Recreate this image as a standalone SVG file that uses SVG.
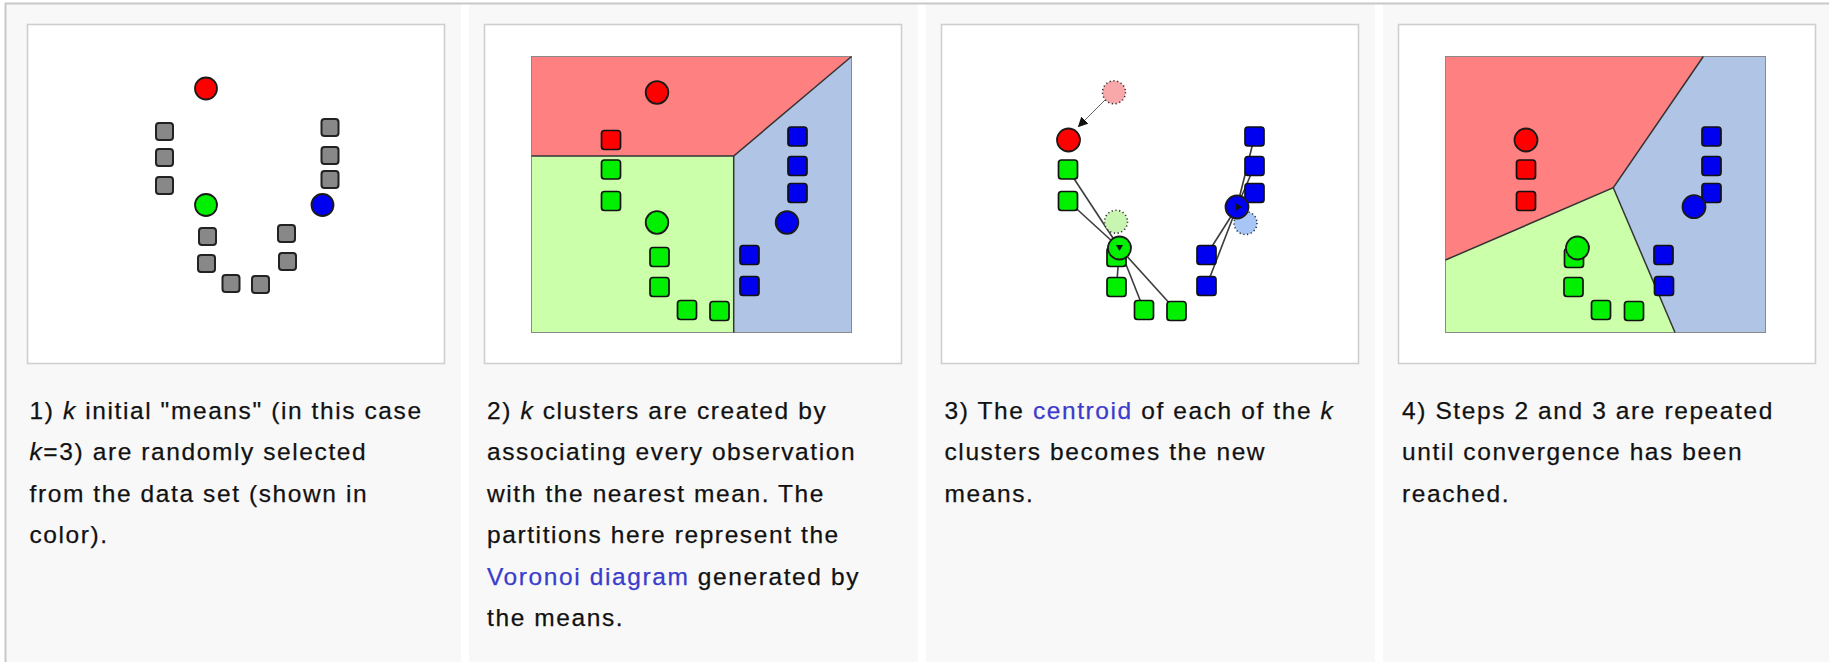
<svg xmlns="http://www.w3.org/2000/svg" width="1829" height="662" viewBox="0 0 1829 662">
<style>
.cell{fill:#f8f8f8}
.frame{fill:#ffffff;stroke:#cfcfcf;stroke-width:1.6}
.gsq{fill:#888888;stroke:#222;stroke-width:2}
.sq{stroke:#111;stroke-width:1.7}
.r{fill:#ff0000}.g{fill:#00f000}.b{fill:#0000f0}
.mean{stroke:#1a1a1a;stroke-width:1.8}
.old{stroke:#333;stroke-width:1.6;stroke-dasharray:1.2 2.6}
.regR{fill:#ff8080}.regG{fill:#ccffaa}.regB{fill:#b0c4e6}
.edge{fill:none;stroke:#333;stroke-width:1.5}
.bound{fill:none;stroke:#8a8a8a;stroke-width:1}
.link{stroke:#3c3c3c;stroke-width:1.6;fill:none}
.txt{font-family:"Liberation Sans",Arial,sans-serif;font-size:24.5px;letter-spacing:1.6px;fill:#111;stroke:#111;stroke-width:0.25}
.a{fill:#3b3bcc;stroke:#3b3bcc}
.i{font-style:italic}
</style>
<defs>
<marker id="ah" viewBox="0 0 10 10" refX="9" refY="5" markerWidth="10" markerHeight="10" markerUnits="userSpaceOnUse" orient="auto">
<path d="M0,0 L10,5 L0,10 z" fill="#111"/>
</marker>
</defs>
<rect width="1829" height="662" fill="#ffffff"/>
<g id="table">
<rect class="cell" x="6" y="4" width="455" height="658"/>
<rect class="cell" x="469" y="4" width="449" height="658"/>
<rect class="cell" x="926" y="4" width="449" height="658"/>
<rect class="cell" x="1383" y="4" width="446" height="658"/>
<line x1="5" y1="3.5" x2="1829" y2="3.5" stroke="#c8c8c8" stroke-width="2"/>
<line x1="5.5" y1="3" x2="5.5" y2="662" stroke="#c8c8c8" stroke-width="2"/>
</g>

<g id="panel1">
<rect class="frame" x="27.5" y="24.5" width="417" height="339"/>
<g id="p1-points">
<rect class="gsq" x="156" y="123" width="17" height="17" rx="3"/>
<rect class="gsq" x="156" y="149" width="17" height="17" rx="3"/>
<rect class="gsq" x="156" y="177" width="17" height="17" rx="3"/>
<rect class="gsq" x="199" y="228" width="17" height="17" rx="3"/>
<rect class="gsq" x="198" y="255" width="17" height="17" rx="3"/>
<rect class="gsq" x="222.5" y="275" width="17" height="17" rx="3"/>
<rect class="gsq" x="252" y="276" width="17" height="17" rx="3"/>
<rect class="gsq" x="278" y="225" width="17" height="17" rx="3"/>
<rect class="gsq" x="279" y="253" width="17" height="17" rx="3"/>
<rect class="gsq" x="321.5" y="119" width="17" height="17" rx="3"/>
<rect class="gsq" x="321.5" y="147" width="17" height="17" rx="3"/>
<rect class="gsq" x="321.5" y="171" width="17" height="17" rx="3"/>
</g>
<g id="p1-means">
<circle class="mean r" cx="206" cy="88.5" r="11"/>
<circle class="mean g" cx="206" cy="205" r="11"/>
<circle class="mean b" cx="322.5" cy="205" r="11"/>
</g>
<text class="txt" x="29.5" y="418.5">1) <tspan class="i">k</tspan> initial "means" (in this case</text>
<text class="txt" x="29.5" y="460"><tspan class="i">k</tspan>=3) are randomly selected</text>
<text class="txt" x="29.5" y="501.5">from the data set (shown in</text>
<text class="txt" x="29.5" y="543">color).</text>
</g>

<g id="panel2">
<rect class="frame" x="484.5" y="24.5" width="417" height="339"/>
<g id="p2-regions">
<polygon class="regR" points="531.5,56.5 851.5,56.5 733.7,156 531.5,156"/>
<polygon class="regG" points="531.5,156 733.7,156 733.7,332.5 531.5,332.5"/>
<polygon class="regB" points="851.5,56.5 851.5,332.5 733.7,332.5 733.7,156"/>
<rect class="bound" x="531.5" y="56.5" width="320" height="276"/>
<polyline class="edge" points="531.5,156 733.7,156 851.5,56.5"/>
<line class="edge" x1="733.7" y1="156" x2="733.7" y2="332.5"/>
</g>
<g id="p2-points">
<rect class="sq r" x="601.5" y="130.5" width="19" height="19" rx="3"/>
<rect class="sq g" x="601.5" y="160" width="19" height="19" rx="3"/>
<rect class="sq g" x="601.5" y="191.5" width="19" height="19" rx="3"/>
<rect class="sq g" x="650" y="247.5" width="19" height="19" rx="3"/>
<rect class="sq g" x="650" y="277.5" width="19" height="19" rx="3"/>
<rect class="sq g" x="677.5" y="300.5" width="19" height="19" rx="3"/>
<rect class="sq g" x="710" y="301.5" width="19" height="19" rx="3"/>
<rect class="sq b" x="788" y="127" width="19" height="19" rx="3"/>
<rect class="sq b" x="788" y="156.5" width="19" height="19" rx="3"/>
<rect class="sq b" x="788" y="183.5" width="19" height="19" rx="3"/>
<rect class="sq b" x="740" y="245.5" width="19" height="19" rx="3"/>
<rect class="sq b" x="740" y="276.5" width="19" height="19" rx="3"/>
</g>
<g id="p2-means">
<circle class="mean r" cx="657" cy="92.5" r="11.3"/>
<circle class="mean g" cx="657" cy="222.5" r="11.3"/>
<circle class="mean b" cx="787" cy="222.5" r="11.3"/>
</g>
<text class="txt" x="487" y="418.5">2) <tspan class="i">k</tspan> clusters are created by</text>
<text class="txt" x="487" y="460">associating every observation</text>
<text class="txt" x="487" y="501.5">with the nearest mean. The</text>
<text class="txt" x="487" y="543">partitions here represent the</text>
<text class="txt" x="487" y="584.5"><tspan class="a">Voronoi diagram</tspan> generated by</text>
<text class="txt" x="487" y="626">the means.</text>
</g>

<g id="panel3">
<rect class="frame" x="941.5" y="24.5" width="417" height="339"/>
<g id="p3-connectors">
<line class="link" x1="1068" y1="169.5" x2="1119.5" y2="248"/>
<line class="link" x1="1068" y1="201" x2="1119.5" y2="248"/>
<line class="link" x1="1116.5" y1="287" x2="1119.5" y2="248"/>
<line class="link" x1="1144" y1="310" x2="1119.5" y2="248"/>
<line class="link" x1="1176.5" y1="311" x2="1119.5" y2="248"/>
<line class="link" x1="1254.5" y1="136.5" x2="1237" y2="207"/>
<line class="link" x1="1254.5" y1="166" x2="1237" y2="207"/>
<line class="link" x1="1254.5" y1="193" x2="1237" y2="207"/>
<line class="link" x1="1206.5" y1="255" x2="1237" y2="207"/>
<line class="link" x1="1206.5" y1="286" x2="1237" y2="207"/>
<line x1="1106" y1="99" x2="1078.5" y2="126.5" stroke="#666" stroke-width="1" marker-end="url(#ah)"/>
</g>
<g id="p3-old-means">
<circle class="old" cx="1114" cy="92.3" r="11.5" fill="#f8a8a8"/>
<circle class="old" cx="1116" cy="221.7" r="11.5" fill="#c8f5b2"/>
<circle class="old" cx="1245.5" cy="223" r="11.5" fill="#a8c6f5"/>
</g>
<g id="p3-points">
<rect class="sq g" x="1058.5" y="160" width="19" height="19" rx="3"/>
<rect class="sq g" x="1058.5" y="191.5" width="19" height="19" rx="3"/>
<rect class="sq g" x="1107" y="247.5" width="19" height="19" rx="3"/>
<rect class="sq g" x="1107" y="277.5" width="19" height="19" rx="3"/>
<rect class="sq g" x="1134.5" y="300.5" width="19" height="19" rx="3"/>
<rect class="sq g" x="1167" y="301.5" width="19" height="19" rx="3"/>
<rect class="sq b" x="1245" y="127" width="19" height="19" rx="3"/>
<rect class="sq b" x="1245" y="156.5" width="19" height="19" rx="3"/>
<rect class="sq b" x="1245" y="183.5" width="19" height="19" rx="3"/>
<rect class="sq b" x="1197" y="245.5" width="19" height="19" rx="3"/>
<rect class="sq b" x="1197" y="276.5" width="19" height="19" rx="3"/>
</g>
<g id="p3-means">
<circle class="mean r" cx="1068.5" cy="140" r="11.5"/>
<circle class="mean g" cx="1119.5" cy="248" r="11.5"/>
<circle class="mean b" cx="1237" cy="207" r="11.5"/>
<path d="M1116,245 L1123,245 L1119.5,251 z" fill="#111"/>
<path d="M1236,203.5 L1242,207 L1236,210.5 z" fill="#111"/>
</g>
<text class="txt" x="944.5" y="418.5">3) The <tspan class="a">centroid</tspan> of each of the <tspan class="i">k</tspan></text>
<text class="txt" x="944.5" y="460">clusters becomes the new</text>
<text class="txt" x="944.5" y="501.5">means.</text>
</g>

<g id="panel4">
<rect class="frame" x="1398.5" y="24.5" width="417" height="339"/>
<g id="p4-regions">
<polygon class="regR" points="1445.5,56.5 1703.3,56.5 1613.3,187.7 1445.5,260"/>
<polygon class="regG" points="1445.5,260 1613.3,187.7 1675,332.5 1445.5,332.5"/>
<polygon class="regB" points="1703.3,56.5 1765.5,56.5 1765.5,332.5 1675,332.5 1613.3,187.7"/>
<rect class="bound" x="1445.5" y="56.5" width="320" height="276"/>
<polyline class="edge" points="1445.5,260 1613.3,187.7 1703.3,56.5"/>
<line class="edge" x1="1613.3" y1="187.7" x2="1675" y2="332.5"/>
</g>
<g id="p4-points">
<rect class="sq r" x="1516.5" y="160" width="19" height="19" rx="3"/>
<rect class="sq r" x="1516.5" y="191.5" width="19" height="19" rx="3"/>
<rect class="sq g" x="1564.5" y="248.5" width="19" height="19" rx="3"/>
<rect class="sq g" x="1564" y="277.5" width="19" height="19" rx="3"/>
<rect class="sq g" x="1591.5" y="300.5" width="19" height="19" rx="3"/>
<rect class="sq g" x="1624.5" y="301.5" width="19" height="19" rx="3"/>
<rect class="sq b" x="1702" y="127" width="19" height="19" rx="3"/>
<rect class="sq b" x="1702" y="156.5" width="19" height="19" rx="3"/>
<rect class="sq b" x="1702" y="183.5" width="19" height="19" rx="3"/>
<rect class="sq b" x="1654" y="245.5" width="19" height="19" rx="3"/>
<rect class="sq b" x="1654.5" y="276.5" width="19" height="19" rx="3"/>
</g>
<g id="p4-means">
<circle class="mean r" cx="1526" cy="140" r="11.5"/>
<circle class="mean g" cx="1577.5" cy="248" r="11.5"/>
<circle class="mean b" cx="1694" cy="206.7" r="11.5"/>
</g>
<text class="txt" x="1402" y="418.5">4) Steps 2 and 3 are repeated</text>
<text class="txt" x="1402" y="460">until convergence has been</text>
<text class="txt" x="1402" y="501.5">reached.</text>
</g>
</svg>
